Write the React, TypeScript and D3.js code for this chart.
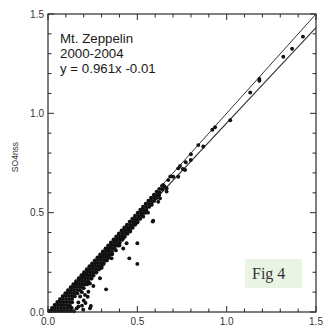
import React from "react";
import * as d3 from "d3";

// Axis domain and tick labels
const xDomain: [number, number] = [0, 1.5];
const yDomain: [number, number] = [0, 1.5];
const majorTicks = [0, 0.5, 1.0, 1.5];
const tickLabels = ["0.0", "0.5", "1.0", "1.5"];
const minorTicks = [0.1, 0.2, 0.3, 0.4, 0.6, 0.7, 0.8, 0.9, 1.1, 1.2, 1.3, 1.4];

// Regression: y = 0.961x - 0.01 ; reference 1:1 line
const slope = 0.961;
const intercept = -0.01;

const annotation = ["Mt. Zeppelin", "2000-2004", "y = 0.961x -0.01"];
const figLabel = "Fig 4";
const xTitle = "SO4T";
const yTitle = "SO4nss";

const densePoints: [number, number][] = [
  [0.008, 0.005], [0.025, 0.005], [0.042, 0.005], [0.059, 0.005], [0.076, 0.005], [0.093, 0.005], [0.11, 0.005], [0.127, 0.005], [0.145, 0.004],
  [0.022, 0.02], [0.039, 0.02], [0.056, 0.02], [0.073, 0.02], [0.09, 0.02], [0.107, 0.02], [0.124, 0.021],
  [0.037, 0.035], [0.054, 0.035], [0.071, 0.035], [0.088, 0.035], [0.105, 0.035], [0.122, 0.034],
  [0.052, 0.05], [0.069, 0.05], [0.086, 0.05], [0.103, 0.05], [0.12, 0.05], [0.135, 0.049],
  [0.067, 0.065], [0.084, 0.065], [0.101, 0.065], [0.118, 0.065], [0.135, 0.066],
  [0.082, 0.08], [0.099, 0.08], [0.116, 0.08], [0.133, 0.08], [0.15, 0.079],
  [0.097, 0.095], [0.114, 0.095], [0.131, 0.095], [0.148, 0.095], [0.165, 0.094],
  [0.112, 0.11], [0.129, 0.11], [0.146, 0.11], [0.163, 0.11], [0.18, 0.109],
  [0.127, 0.125], [0.144, 0.125], [0.161, 0.125], [0.178, 0.125], [0.195, 0.124],
  [0.142, 0.14], [0.159, 0.14], [0.176, 0.14], [0.193, 0.14], [0.21, 0.139],
  [0.157, 0.155], [0.174, 0.155], [0.191, 0.155], [0.208, 0.155], [0.225, 0.154],
  [0.172, 0.17], [0.189, 0.17], [0.206, 0.17], [0.223, 0.17], [0.24, 0.169],
  [0.187, 0.185], [0.204, 0.185], [0.221, 0.185], [0.238, 0.185], [0.255, 0.184],
  [0.202, 0.2], [0.219, 0.2], [0.236, 0.2], [0.253, 0.2], [0.27, 0.199],
  [0.217, 0.215], [0.234, 0.215], [0.251, 0.215], [0.268, 0.215], [0.285, 0.214],
  [0.232, 0.23], [0.249, 0.23], [0.266, 0.23], [0.283, 0.23], [0.3, 0.229],
  [0.247, 0.245], [0.264, 0.245], [0.281, 0.245], [0.298, 0.245], [0.312, 0.244],
  [0.262, 0.26], [0.279, 0.26], [0.296, 0.26], [0.313, 0.26], [0.328, 0.259],
  [0.277, 0.275], [0.294, 0.275], [0.311, 0.275], [0.328, 0.275], [0.342, 0.274],
  [0.292, 0.29], [0.309, 0.29], [0.326, 0.29], [0.343, 0.29], [0.356, 0.289],
  [0.307, 0.305], [0.324, 0.305], [0.341, 0.305], [0.358, 0.304],
  [0.322, 0.32], [0.339, 0.32], [0.356, 0.32], [0.373, 0.319],
  [0.337, 0.335], [0.354, 0.335], [0.371, 0.335], [0.388, 0.334],
  [0.352, 0.35], [0.369, 0.35], [0.386, 0.35], [0.402, 0.349],
  [0.367, 0.365], [0.384, 0.365], [0.401, 0.365], [0.416, 0.364],
  [0.382, 0.38], [0.399, 0.38], [0.416, 0.38], [0.43, 0.379],
  [0.397, 0.395], [0.414, 0.395], [0.431, 0.395], [0.445, 0.394],
  [0.412, 0.41], [0.429, 0.41], [0.446, 0.41], [0.46, 0.409],
  [0.427, 0.425], [0.444, 0.425], [0.461, 0.425], [0.474, 0.424],
  [0.442, 0.44], [0.459, 0.44], [0.476, 0.44], [0.488, 0.439],
  [0.457, 0.455], [0.474, 0.455], [0.491, 0.455], [0.502, 0.454],
  [0.472, 0.47], [0.489, 0.47], [0.506, 0.47], [0.516, 0.469],
  [0.487, 0.485], [0.504, 0.485], [0.521, 0.485], [0.53, 0.484],
  [0.502, 0.5], [0.519, 0.5], [0.536, 0.5], [0.545, 0.499],
  [0.517, 0.515], [0.534, 0.515], [0.551, 0.514],
  [0.532, 0.53], [0.549, 0.53], [0.566, 0.529],
  [0.547, 0.545], [0.564, 0.545], [0.58, 0.544],
  [0.562, 0.56], [0.579, 0.56], [0.594, 0.559],
  [0.577, 0.575], [0.594, 0.575], [0.608, 0.574],
  [0.593, 0.59], [0.61, 0.589], [0.622, 0.588],
  [0.608, 0.605], [0.625, 0.603],
  [0.623, 0.62], [0.64, 0.618],
  [0.638, 0.635], [0.652, 0.632],
];

// Scattered observations below the band
const lowPoints: [number, number][] = [
  [0.586, 0.455], [0.589, 0.459], [0.5, 0.346], [0.455, 0.27], [0.5, 0.242], [0.44, 0.346],
  [0.421, 0.32], [0.356, 0.27], [0.325, 0.114], [0.254, 0.131], [0.291, 0.17], [0.235, 0.144],
  [0.226, 0.102], [0.207, 0.086], [0.222, 0.077], [0.17, 0.027], [0.133, 0.02], [0.235, 0.019],
  [0.197, 0.012], [0.24, 0.03], [0.38, 0.31], [0.36, 0.292], [0.33, 0.262], [0.31, 0.242],
  [0.3, 0.222], [0.27, 0.2], [0.244, 0.168], [0.22, 0.14], [0.2, 0.12], [0.19, 0.1],
  [0.18, 0.078], [0.2, 0.058], [0.17, 0.048], [0.19, 0.032], [0.16, 0.018], [0.21, 0.045],
  [0.4, 0.335], [0.42, 0.37], [0.46, 0.405], [0.5, 0.45], [0.533, 0.48], [0.56, 0.5],
  [0.58, 0.539], [0.617, 0.555], [0.627, 0.572],
];

// Sparse high-value observations
const highPoints: [number, number][] = [
  [0.645, 0.639], [0.664, 0.623], [0.664, 0.606], [0.673, 0.664], [0.685, 0.682], [0.701, 0.681],
  [0.729, 0.723], [0.729, 0.681], [0.739, 0.735], [0.755, 0.72], [0.771, 0.754], [0.767, 0.715],
  [0.8, 0.794], [0.799, 0.765], [0.841, 0.84], [0.869, 0.833], [0.92, 0.917], [0.935, 0.93],
  [1.02, 0.965], [1.132, 1.105], [1.183, 1.173], [1.183, 1.164], [1.317, 1.285], [1.366, 1.325],
  [1.427, 1.386],
];

const W = 323;
const H = 329;
const left = 48;
const right = 316;
const top = 14;
const bottom = 312;

export default function App() {
  const x = d3.scaleLinear().domain(xDomain).range([left, right]);
  const y = d3.scaleLinear().domain(yDomain).range([bottom, top]);
  const allPoints = [...densePoints, ...lowPoints, ...highPoints];
  const oneToOne = d3.line<number>().x((v) => x(v)).y((v) => y(v));
  const x0 = -intercept / slope;
  const regLine = d3
    .line<number>()
    .x((v) => x(v))
    .y((v) => y(slope * v + intercept));
  const axisColor = "#2a2a2a";
  const font = "'Liberation Sans', Arial, Helvetica, sans-serif";
  const majLen = 6;
  const minLen = 3.5;

  return (
    <svg
      width={W}
      height={H}
      style={{ position: "absolute", left: 0, top: 0, background: "#fff" }}
      fontFamily={font}
    >
      <rect width={W} height={H} fill="#fff" />
      {/* lines */}
      <path d={oneToOne([0, 1.5]) || ""} stroke="#333" strokeWidth={1} fill="none" />
      <path d={regLine([x0, 1.5]) || ""} stroke="#333" strokeWidth={1.1} fill="none" />
      {/* points */}
      <g fill="#111">
        {allPoints.map((p, i) => (
          <circle key={i} cx={x(p[0])} cy={y(p[1])} r={1.95} />
        ))}
      </g>
      {/* frame */}
      <rect
        x={left}
        y={top}
        width={right - left}
        height={bottom - top}
        fill="none"
        stroke={axisColor}
        strokeWidth={1.2}
      />
      {/* ticks */}
      <g stroke={axisColor} strokeWidth={1}>
        {majorTicks.map((t) => (
          <g key={"M" + t}>
            <line x1={x(t)} x2={x(t)} y1={bottom} y2={bottom - majLen} />
            <line x1={x(t)} x2={x(t)} y1={top} y2={top + majLen} />
            <line x1={left} x2={left + majLen} y1={y(t)} y2={y(t)} />
            <line x1={right} x2={right - majLen} y1={y(t)} y2={y(t)} />
          </g>
        ))}
        {minorTicks.map((t) => (
          <g key={"m" + t}>
            <line x1={x(t)} x2={x(t)} y1={bottom} y2={bottom - minLen} />
            <line x1={x(t)} x2={x(t)} y1={top} y2={top + minLen} />
            <line x1={left} x2={left + minLen} y1={y(t)} y2={y(t)} />
            <line x1={right} x2={right - minLen} y1={y(t)} y2={y(t)} />
          </g>
        ))}
      </g>
      {/* tick labels */}
      <g fontSize={10} fill="#333">
        {majorTicks.map((t, i) => (
          <text key={"xl" + t} x={x(t)} y={325} textAnchor="middle">
            {tickLabels[i]}
          </text>
        ))}
        {majorTicks.map((t, i) => (
          <text key={"yl" + t} x={44} y={y(t)} dy="0.36em" textAnchor="end">
            {tickLabels[i]}
          </text>
        ))}
      </g>
      {/* axis titles */}
      <text x={(left + right) / 2} y={335} fontSize={9} textAnchor="middle" fill="#333">
        {xTitle}
      </text>
      <text
        transform={`translate(18,157) rotate(-90)`}
        fontSize={8.5}
        textAnchor="middle"
        fill="#333"
      >
        {yTitle}
      </text>
      {/* annotation */}
      <g fontSize={13.3} fill="#1a1a1a">
        {annotation.map((s, i) => (
          <text key={s} x={60} y={43 + i * 15.2}>
            {s}
          </text>
        ))}
      </g>
      <rect x={245} y={259} width={57} height={29} fill="#eaf4e5" />
      <text
        x={252}
        y={278.5}
        fontSize={16}
        fontFamily="'Liberation Serif', 'Times New Roman', serif"
        fill="#333"
      >
        {figLabel}
      </text>
    </svg>
  );
}
